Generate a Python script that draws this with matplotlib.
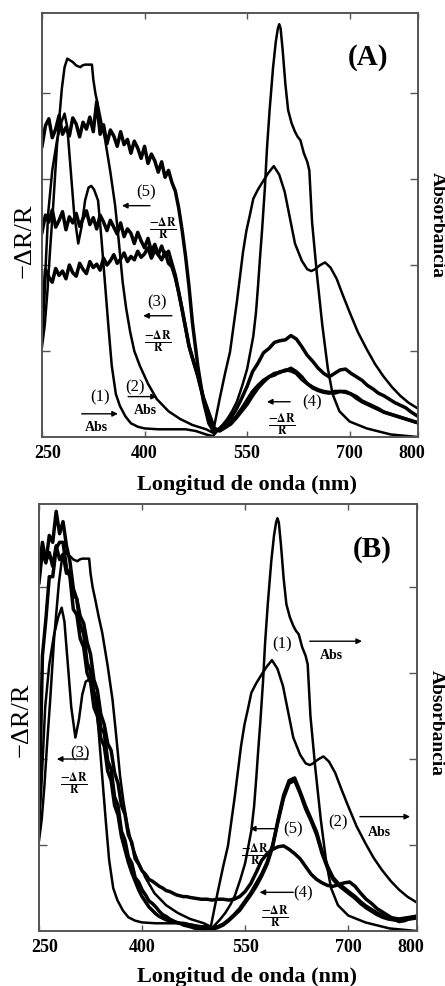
import matplotlib
matplotlib.use('Agg')
import matplotlib.pyplot as plt
from matplotlib.transforms import ScaledTranslation

plt.rcParams['font.family'] = ['Liberation Serif', 'DejaVu Serif']
plt.rcParams['mathtext.fontset'] = 'stix'

# ---------------- data ----------------
x_ticks = [250, 400, 550, 700, 800]

# absorbance spectra (same in both panels)
abs1_nm = [250, 253, 256, 259, 265, 272, 278, 283, 287, 292, 297, 303, 308, 313, 318, 322, 326, 332, 337, 342,
           347, 352, 358, 364, 372, 380, 390, 400, 420, 440, 460, 475, 490, 500, 506, 513, 521, 528, 535, 543,
           550, 555, 559, 563, 566, 569, 572, 576, 579, 583, 588, 592, 595, 597, 599, 602, 606, 610, 615, 620,
           624, 628, 633, 638, 641, 645, 652, 660, 668, 675, 685, 700, 725, 760, 800]
abs1 = [1.25, 1.6, 2.1, 2.6, 3.1, 3.45, 3.65, 3.76, 3.6, 3.1, 2.6, 2.25, 2.45, 2.75, 2.9, 2.92, 2.88, 2.75, 2.3, 1.8,
        1.3, 0.83, 0.5, 0.36, 0.24, 0.16, 0.12, 0.1, 0.09, 0.09, 0.09, 0.07, 0.03, 0.01, 0.07, 0.13, 0.21, 0.3, 0.41, 0.6,
        0.79, 1.0, 1.17, 1.45, 1.76, 2.1, 2.42, 2.9, 3.35, 3.81, 4.3, 4.6, 4.75, 4.8, 4.75, 4.5, 4.1, 3.8, 3.65, 3.55,
        3.49, 3.45, 3.3, 3.2, 3.1, 2.5, 1.9, 1.3, 0.8, 0.5, 0.3, 0.18, 0.1, 0.03, 0.0]

abs2_nm = [250, 254, 258, 262, 266, 272, 279, 283, 287, 291, 295, 300, 306, 309, 313, 318, 323, 325, 328, 332,
           337, 342, 350, 357, 362, 368, 373, 379, 385, 393, 405, 418, 435, 452, 470, 490, 500, 510, 518, 525,
           535, 544, 549, 554, 559, 566, 573, 581, 589, 597, 605, 613, 620, 630, 638, 644, 649, 657, 664, 672,
           681, 690, 700, 712, 725, 737, 749, 762, 774, 786, 800]
abs2 = [1.05, 1.3, 1.7, 2.2, 2.65, 3.4, 4.05, 4.3, 4.4, 4.38, 4.36, 4.32, 4.30, 4.32, 4.33, 4.33, 4.33, 4.16, 4.0, 3.85,
        3.65, 3.47, 3.08, 2.69, 2.3, 1.8, 1.5, 1.22, 1.0, 0.83, 0.62, 0.44, 0.3, 0.21, 0.14, 0.09, 0.05, 0.45, 0.75, 0.99,
        1.57, 2.15, 2.4, 2.58, 2.77, 2.88, 2.97, 3.07, 3.15, 3.05, 2.85, 2.53, 2.25, 2.05, 1.95, 1.93, 1.95, 2.0, 2.03, 1.97,
        1.84, 1.65, 1.45, 1.22, 1.02, 0.85, 0.71, 0.58, 0.48, 0.40, 0.33]

# -dR/R spectra (noisy) on a common wavelength list
dr_nm = [250, 255, 260, 265, 270, 275, 280, 285, 290, 295, 300, 305, 310, 315, 320, 325, 330, 335, 340, 345,
         350, 355, 360, 365, 370, 375, 380, 385, 390, 395, 400, 405, 410, 415, 420, 425, 430, 435, 440, 445,
         450, 455, 460, 465, 470, 478, 486, 494, 502, 510, 518, 526, 534, 542, 550, 558, 566, 574, 582, 590,
         598, 606, 614, 622, 630, 638, 646, 654, 662, 670, 678, 686, 694, 702, 710, 718, 726, 734, 742, 750,
         758, 766, 774, 782, 790, 798, 800]

a_dr5 = [3.38, 3.62, 3.70, 3.48, 3.58, 3.74, 3.52, 3.60, 3.50, 3.71, 3.64, 3.49, 3.66, 3.58, 3.72, 3.55, 3.90, 3.52, 3.63, 3.41,
         3.57, 3.50, 3.38, 3.55, 3.40, 3.46, 3.30, 3.44, 3.36, 3.24, 3.38, 3.18, 3.29, 3.21, 3.08, 3.20, 3.02, 3.10, 2.96, 2.86,
         2.66, 2.40, 2.10, 1.75, 1.33, 0.82, 0.42, 0.16, 0.05, 0.10, 0.16, 0.22, 0.32, 0.45, 0.59, 0.76, 0.86, 0.98, 1.03, 1.10,
         1.12, 1.13, 1.18, 1.14, 1.05, 0.95, 0.88, 0.80, 0.74, 0.70, 0.74, 0.78, 0.79, 0.74, 0.70, 0.66, 0.60, 0.56, 0.51, 0.48,
         0.44, 0.40, 0.37, 0.34, 0.29, 0.25, 0.24]
a_dr3 = [2.38, 2.58, 2.50, 2.64, 2.44, 2.52, 2.62, 2.41, 2.56, 2.49, 2.60, 2.45, 2.54, 2.63, 2.47, 2.55, 2.42, 2.58, 2.50, 2.40,
         2.52, 2.44, 2.36, 2.49, 2.33, 2.42, 2.37, 2.25, 2.38, 2.28, 2.20, 2.31, 2.16, 2.24, 2.12, 2.06, 2.15, 2.02, 1.98, 1.85,
         1.68, 1.48, 1.27, 1.06, 0.92, 0.72, 0.46, 0.28, 0.10, 0.08, 0.12, 0.17, 0.24, 0.33, 0.43, 0.53, 0.60, 0.66, 0.70, 0.74,
         0.75, 0.78, 0.77, 0.74, 0.67, 0.62, 0.57, 0.54, 0.52, 0.51, 0.53, 0.53, 0.52, 0.50, 0.45, 0.41, 0.38, 0.35, 0.32, 0.29,
         0.27, 0.25, 0.23, 0.21, 0.19, 0.17, 0.17]
a_dr4 = [1.25, 1.95, 1.86, 1.80, 1.96, 1.88, 1.93, 1.84, 2.00, 1.91, 1.87, 2.02, 1.95, 1.90, 2.04, 1.97, 2.01, 1.94, 2.08, 2.00,
         2.05, 2.12, 2.02, 2.07, 2.14, 2.04, 2.10, 2.06, 2.16, 2.09, 2.13, 2.20, 2.08, 2.17, 2.12, 2.22, 2.10, 2.16, 2.02, 1.88,
         1.68, 1.48, 1.27, 1.06, 0.92, 0.70, 0.45, 0.27, 0.09, 0.07, 0.11, 0.15, 0.22, 0.30, 0.38, 0.48, 0.57, 0.64, 0.70, 0.72,
         0.76, 0.77, 0.80, 0.76, 0.70, 0.62, 0.58, 0.55, 0.53, 0.52, 0.51, 0.53, 0.53, 0.50, 0.47, 0.42, 0.39, 0.36, 0.33, 0.29,
         0.27, 0.25, 0.23, 0.21, 0.19, 0.17, 0.17]

b_dr5 = [4.05, 4.42, 4.28, 4.60, 4.52, 4.88, 4.62, 4.76, 4.48, 4.30, 3.98, 3.86, 3.56, 3.46, 3.12, 3.02, 2.76, 2.64, 2.36, 2.30,
         1.98, 1.88, 1.56, 1.46, 1.16, 1.06, 0.86, 0.79, 0.62, 0.57, 0.48, 0.42, 0.35, 0.32, 0.28, 0.23, 0.19, 0.17, 0.14, 0.12,
         0.10, 0.09, 0.07, 0.06, 0.05, 0.03, 0.01, 0.00, 0.02, 0.04, 0.07, 0.12, 0.18, 0.24, 0.33, 0.42, 0.52, 0.64, 0.78, 0.98,
         1.30, 1.58, 1.75, 1.78, 1.62, 1.45, 1.30, 1.15, 0.92, 0.75, 0.62, 0.55, 0.50, 0.45, 0.40, 0.34, 0.29, 0.25, 0.21, 0.18,
         0.16, 0.15, 0.14, 0.15, 0.16, 0.17, 0.17]
b_dr4 = [4.18, 4.52, 4.30, 4.40, 4.24, 4.48, 4.32, 4.38, 4.16, 4.18, 3.92, 3.86, 3.66, 3.58, 3.36, 3.22, 2.92, 2.80, 2.52, 2.40,
         2.18, 2.10, 1.84, 1.72, 1.46, 1.36, 1.12, 1.03, 0.84, 0.78, 0.70, 0.66, 0.60, 0.58, 0.55, 0.52, 0.50, 0.47, 0.46, 0.44,
         0.42, 0.41, 0.40, 0.40, 0.39, 0.38, 0.37, 0.37, 0.36, 0.37, 0.37, 0.36, 0.37, 0.40, 0.46, 0.55, 0.68, 0.82, 0.90, 0.95,
         0.98, 0.99, 0.95, 0.90, 0.84, 0.75, 0.66, 0.60, 0.56, 0.53, 0.52, 0.54, 0.56, 0.57, 0.52, 0.44, 0.37, 0.32, 0.26, 0.22,
         0.18, 0.14, 0.11, 0.12, 0.15, 0.17, 0.17]
b_dr3 = [1.30, 3.20, 3.62, 4.12, 4.12, 4.45, 4.52, 4.52, 4.22, 4.12, 3.74, 3.68, 3.40, 3.30, 3.00, 2.90, 2.60, 2.50, 2.24, 2.15,
         1.86, 1.75, 1.46, 1.35, 1.10, 0.95, 0.80, 0.68, 0.58, 0.48, 0.40, 0.34, 0.28, 0.24, 0.20, 0.17, 0.15, 0.13, 0.12, 0.11,
         0.10, 0.09, 0.09, 0.08, 0.07, 0.06, 0.05, 0.05, 0.04, 0.05, 0.08, 0.13, 0.19, 0.26, 0.35, 0.44, 0.55, 0.66, 0.80, 1.00,
         1.28, 1.55, 1.72, 1.75, 1.60, 1.42, 1.28, 1.12, 0.90, 0.73, 0.60, 0.53, 0.48, 0.43, 0.38, 0.32, 0.27, 0.23, 0.19, 0.16,
         0.14, 0.13, 0.12, 0.13, 0.14, 0.15, 0.16]

FRAC = r'$\frac{\mathbf{-\Delta R}}{\mathbf{R}}$'

# ---------------- figure ----------------
fig = plt.figure(figsize=(4.45, 9.87), dpi=100)
axA = fig.add_axes([0.0944, 0.5562, 0.845, 0.4296])
axB = fig.add_axes([0.0876, 0.0557, 0.8494, 0.4326])


def style(ax, ymax, ylab_y, abs_y, xl):
    ax.set_xlim(250, 800)
    ax.set_ylim(0, ymax)
    ax.set_xticks(x_ticks)
    ax.set_xticklabels([str(v) for v in x_ticks], fontsize=13, fontweight='bold')
    ax.set_yticks([1, 2, 3, 4])
    ax.tick_params(axis='y', left=True, right=True, labelleft=False, direction='in',
                   length=6, width=1, color='#555555')
    ax.tick_params(axis='x', top=True, bottom=True, direction='in', length=4, width=1,
                   color='#555555', pad=5)
    for s in ax.spines.values():
        s.set_color('#555555')
        s.set_linewidth(1.4)
    ticks = ax.xaxis.get_major_ticks()
    ticks[0].label1.set_transform(ticks[0].label1.get_transform() +
                                  ScaledTranslation(0.06, 0, fig.dpi_scale_trans))
    ticks[-1].label1.set_transform(ticks[-1].label1.get_transform() +
                                   ScaledTranslation(-0.06, 0, fig.dpi_scale_trans))
    ax.text(-0.045, ylab_y, '−ΔR/R', rotation=90, transform=ax.transAxes,
            ha='center', va='center', fontsize=19)
    ax.text(1.05, abs_y, 'Absorbancia', rotation=-90, transform=ax.transAxes,
            ha='center', va='center', fontsize=14, fontweight='bold')
    ax.text(xl[0], xl[1], 'Longitud de onda (nm)', transform=ax.transAxes,
            ha='center', va='center', fontsize=16, fontweight='bold')


def arrow(ax, x0, x1, y):
    ax.annotate('', xy=(x1, y), xytext=(x0, y),
                arrowprops=dict(arrowstyle='-|>', color='k', lw=1.0, mutation_scale=8,
                                shrinkA=0, shrinkB=0))


def label(ax, x, y, s, size=11, weight='normal'):
    ax.text(x, y, s, ha='center', va='center', fontsize=size, fontweight=weight)


NOISY_LW = 2.5
ABS_LW = 1.8

# ---- panel A ----
ax = axA
ax.plot(dr_nm, a_dr5, color='k', lw=NOISY_LW)
ax.plot(dr_nm, a_dr3, color='k', lw=NOISY_LW)
ax.plot(dr_nm, a_dr4, color='k', lw=NOISY_LW)
ax.plot(abs1_nm, abs1, color='k', lw=ABS_LW)
ax.plot(abs2_nm, abs2, color='k', lw=ABS_LW)
style(ax, 4.93, 0.465, 0.502, (0.545, -0.111))
ax.text(0.867, 0.898, '(A)', transform=ax.transAxes, ha='center', va='center',
        fontsize=21, fontweight='bold')
label(ax, 402, 2.86, '(5)', size=12)
arrow(ax, 408, 367, 2.69)
label(ax, 427, 2.43, FRAC, size=12)
label(ax, 418, 1.58, '(3)', size=12)
arrow(ax, 440, 398, 1.41)
label(ax, 420, 1.12, FRAC, size=12)
label(ax, 335, 0.47, '(1)', size=12)
arrow(ax, 308, 361, 0.27)
label(ax, 330, 0.12, 'Abs', size=10, weight='bold')
label(ax, 386, 0.59, '(2)', size=12)
arrow(ax, 376, 418, 0.47)
label(ax, 401, 0.32, 'Abs', size=10, weight='bold')
label(ax, 645, 0.41, '(4)', size=12)
arrow(ax, 613, 579, 0.41)
label(ax, 601, 0.15, FRAC, size=12)

# ---- panel B ----
ax = axB
ax.plot(dr_nm, b_dr5, color='k', lw=NOISY_LW)
ax.plot(dr_nm, b_dr4, color='k', lw=NOISY_LW)
ax.plot(dr_nm, b_dr3, color='k', lw=NOISY_LW)
ax.plot(abs1_nm, abs1, color='k', lw=ABS_LW)
ax.plot(abs2_nm, abs2, color='k', lw=ABS_LW)
style(ax, 4.965, 0.497, 0.49, (0.55, -0.105))
ax.text(0.881, 0.895, '(B)', transform=ax.transAxes, ha='center', va='center',
        fontsize=21, fontweight='bold')
label(ax, 604, 3.34, '(1)', size=12)
arrow(ax, 644, 720, 3.37)
label(ax, 676, 3.21, 'Abs', size=10, weight='bold')
label(ax, 685, 1.28, '(2)', size=12)
arrow(ax, 717, 790, 1.33)
label(ax, 746, 1.16, 'Abs', size=10, weight='bold')
label(ax, 310, 2.08, '(3)', size=12)
arrow(ax, 321, 276, 2.0)
label(ax, 300, 1.72, FRAC, size=12)
label(ax, 620, 1.19, '(5)', size=12)
arrow(ax, 596, 557, 1.19)
label(ax, 564, 0.90, FRAC, size=12)
label(ax, 634, 0.45, '(4)', size=12)
arrow(ax, 620, 571, 0.45)
label(ax, 593, 0.18, FRAC, size=12)

fig.savefig('out.png', dpi=100)
